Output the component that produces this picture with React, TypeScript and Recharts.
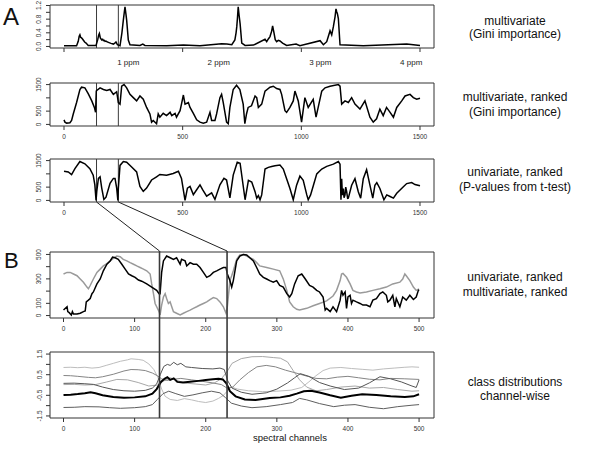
import React from 'react';
import { LineChart, Line, XAxis, YAxis, ReferenceArea, ReferenceLine } from 'recharts';

const FONT = '"Liberation Sans", Arial, Helvetica, sans-serif';

// ---- panel A1: Gini importance over the spectrum (channel, importance)
const giniPoints: [number, number][] = [
  [0, 0.02], [53, 0.02], [60, 0.15], [64, 0.3], [67, 0.34], [70, 0.27], [74, 0.25], [78, 0.22],
  [81, 0.19], [87, 0.13], [93, 0.1], [102, 0.03], [117, 0.03], [135, 0.03], [142, 0.2], [146, 0.33],
  [149, 0.38], [153, 0.25], [159, 0.19], [163, 0.21], [166, 0.17], [170, 0.18], [173, 0.15], [177, 0.16],
  [180, 0.14], [187, 0.12], [198, 0.09], [208, 0.07], [214, 0.1], [219, 0.13], [225, 0.05], [236, 0.02],
  [244, 0.4], [250, 0.77], [254, 1.0], [257, 1.16], [261, 0.95], [264, 0.77], [271, 0.19], [278, 0.05],
  [320, 0.03], [332, 0.07], [341, 0.03], [433, 0.02], [503, 0.04], [573, 0.02], [664, 0.08], [686, 0.07],
  [707, 0.05], [720, 0.19], [725, 0.4], [728, 0.58], [731, 0.85], [734, 1.16], [738, 0.9], [742, 0.67],
  [749, 0.1], [763, 0.03], [798, 0.04], [847, 0.21], [854, 0.14], [861, 0.22], [868, 0.29], [875, 0.45],
  [879, 0.6], [885, 0.39], [890, 0.2], [896, 0.14], [903, 0.18], [910, 0.16], [921, 0.1], [938, 0.03],
  [978, 0.07], [994, 0.02], [1079, 0.17], [1093, 0.05], [1107, 0.14], [1114, 0.3], [1121, 0.46],
  [1128, 0.34], [1135, 0.58], [1142, 0.87], [1146, 1.1], [1149, 1.02], [1152, 0.96], [1156, 0.82],
  [1163, 0.05], [1261, 0.02], [1444, 0.07], [1472, 0.05], [1500, 0.03],
];

// ---- panel A2: multivariate rank
const multiRank: [number, number][] = [
  [0, 172], [4, 86], [11, 49], [25, 62], [32, 148], [39, 394], [53, 824], [67, 1316], [74, 1402],
  [88, 1378], [102, 1156], [117, 886], [128, 640], [133, 455], [136, 1255], [138, 1279], [152, 1378],
  [166, 1316], [180, 1279], [194, 1316], [208, 1132], [222, 1230], [229, 824], [236, 763], [243, 1439],
  [253, 1500], [264, 1378], [278, 1132], [292, 1009], [306, 886], [320, 1070], [334, 947], [348, 640],
  [362, 394], [369, 86], [376, 148], [390, 25], [397, 394], [404, 271], [418, 418], [432, 332],
  [447, 455], [454, 332], [468, 418], [474, 271], [489, 517], [495, 763], [503, 1107], [510, 763],
  [524, 824], [531, 640], [545, 418], [559, 172], [573, 86], [587, 49], [601, 86], [615, 455],
  [622, 148], [636, 148], [643, 394], [657, 1009], [664, 1132], [671, 824], [685, 86], [692, 25],
  [699, 640], [713, 1316], [727, 1476], [741, 1316], [755, 763], [762, 25], [769, 394], [776, 640],
  [790, 701], [805, 1070], [812, 1009], [819, 640], [833, 763], [847, 1255], [868, 1402], [882, 1439],
  [896, 1353], [910, 1316], [917, 1132], [931, 517], [938, 455], [952, 640], [966, 886], [973, 1255],
  [987, 886], [1001, 86], [1015, 1009], [1029, 640], [1050, 947], [1062, 271], [1086, 1255],
  [1100, 1378], [1121, 1439], [1156, 1500], [1163, 1439], [1170, 763], [1184, 886], [1198, 824],
  [1212, 1009], [1226, 763], [1247, 578], [1268, 886], [1289, 271], [1303, 86], [1317, 209],
  [1331, 578], [1345, 332], [1359, 640], [1374, 455], [1388, 271], [1402, 640], [1423, 886],
  [1437, 1070], [1458, 1132], [1472, 1009], [1486, 947], [1500, 984],
];

// ---- panel A3: univariate rank (t-test p-values)
const uniRank: [number, number][] = [
  [0, 1098], [18, 1074], [32, 976], [46, 1196], [67, 1464], [88, 1379], [109, 1196], [123, 952],
  [130, 586], [135, 0], [138, 342], [145, 830], [152, 891], [159, 464], [168, 37], [177, 122],
  [194, 647], [208, 830], [215, 830], [222, 464], [227, 0], [229, 464], [236, 1318], [250, 1464],
  [264, 1440], [285, 1257], [306, 1074], [320, 525], [334, 342], [348, 464], [369, 769], [390, 891],
  [404, 976], [432, 952], [460, 1013], [482, 1098], [495, 830], [510, 0], [520, 464], [531, 525],
  [545, 220], [559, 403], [573, 586], [584, 403], [601, 159], [622, 281], [636, 37], [657, 586],
  [674, 830], [685, 769], [699, 98], [713, 952], [730, 1440], [742, 1400], [763, 24], [777, 756],
  [791, 695], [805, 329], [812, 85], [819, 183], [826, 24], [833, 207], [847, 1183], [861, 1244],
  [875, 1281], [889, 1305], [910, 1330], [924, 1183], [938, 817], [952, 451], [966, 24], [980, 573],
  [994, 915], [1008, 756], [1023, 207], [1029, 24], [1039, 207], [1051, 573], [1065, 1000],
  [1086, 1183], [1107, 1281], [1135, 1366], [1156, 1464], [1163, 1366], [1167, 24], [1170, 817],
  [1173, 200], [1177, 451], [1180, 100], [1184, 207], [1187, 500], [1191, 329], [1195, 80],
  [1198, 85], [1212, 573], [1226, 817], [1240, 329], [1250, 85], [1261, 817], [1275, 1159],
  [1289, 573], [1301, 85], [1310, 573], [1318, 671], [1331, 451], [1348, 24], [1360, 207],
  [1374, 146], [1388, 85], [1402, 268], [1416, 390], [1430, 512], [1444, 634], [1465, 671],
  [1479, 598], [1500, 549],
];

// ---- panel B1: first 500 channels, ranks
const rankBlack: [number, number][] = [
  [0, 45], [5, 72], [6, 32], [8, 24], [11, 5], [12.5, 32], [14, 13], [19, 13], [23.5, 19], [28, 32],
  [30.5, 37], [32, 112], [35, 126], [37.5, 139], [40, 179], [42, 193], [47, 259], [51.6, 299],
  [56, 366], [61, 420], [65.6, 447], [69, 479], [72.6, 473], [77, 460], [82, 420], [86.7, 380],
  [91.4, 340], [96, 326], [100.7, 313], [105.4, 291], [110, 281], [117, 259], [124, 233], [131, 206],
  [134.4, 179], [135.8, 179], [138, 353], [140.5, 447], [145, 487], [150, 473], [154.6, 460],
  [159, 473], [164, 420], [166, 460], [171, 447], [173.3, 406], [178, 433], [182.6, 420],
  [187.3, 420], [192, 393], [196.7, 353], [201.4, 313], [206, 326], [210.7, 353], [215.4, 366],
  [220, 380], [224.8, 393], [228.5, 393], [230.4, 340], [234, 286], [236.5, 233], [238.8, 286],
  [243.5, 447], [248, 487], [252.9, 500], [257.6, 495], [262, 473], [267, 447], [271.6, 393],
  [276, 340], [281, 313], [285.7, 299], [290, 286], [295, 273], [299.7, 286], [304, 246], [309, 233],
  [314, 179], [318, 152], [321, 179], [325, 259], [330, 326], [335, 340], [340, 299], [346, 246],
  [351, 233], [356, 206], [360, 193], [365, 152], [368, 45], [370, 59], [375, 32], [379, 72],
  [384, 32], [389, 126], [391, 206], [393, 166], [396, 193], [398, 59], [400, 152], [403, 166],
  [405, 99], [407, 126], [412, 112], [417, 99], [421, 86], [426, 86], [431, 72], [435, 126],
  [440, 139], [445, 179], [449, 193], [454, 166], [456, 112], [459, 126], [463, 166], [466, 72],
  [468, 139], [473, 72], [477, 152], [482, 126], [487, 166], [492, 131], [496, 152], [499, 206],
  [500, 211],
];

const rankGray: [number, number][] = [
  [0, 340], [5, 353], [9.4, 353], [14, 340], [19, 326], [23.5, 299], [28, 273], [33, 233], [35, 219],
  [37.5, 246], [42, 299], [47, 353], [51.6, 380], [56, 406], [61, 425], [65.6, 447], [70, 468],
  [75, 487], [79.7, 481], [84, 460], [89, 447], [93.7, 433], [98.4, 420], [103, 406], [107.7, 393],
  [112.4, 380], [117, 366], [121.8, 340], [124, 259], [126.5, 179], [128.8, 99], [131, 72],
  [134.4, 32], [135.8, 5], [138, 86], [140.5, 152], [142.9, 179], [145, 139], [147.5, 99],
  [149.9, 112], [152.2, 72], [154.6, 32], [159, 19], [164, 5], [168.6, 19], [173.3, 32], [178, 45],
  [182.6, 59], [187.3, 72], [192, 86], [196.7, 99], [201.4, 112], [206, 131], [210.7, 147],
  [215.4, 139], [220, 112], [224.8, 72], [228.5, 19], [230.4, 72], [234, 286], [236.5, 326],
  [238.8, 366], [243.5, 460], [248, 495], [252.9, 500], [257.6, 487], [262, 473], [267, 460],
  [271.6, 433], [276, 406], [285.7, 393], [295, 380], [304, 366], [309, 300], [314, 206], [318, 112],
  [323, 72], [328, 51], [332, 45], [342, 59], [351, 80], [360, 99], [370, 120], [379, 160], [384, 206],
  [389, 286], [391, 340], [393, 345], [398, 313], [403, 259], [407, 206], [412, 193], [417, 185],
  [426, 193], [435, 206], [445, 219], [454, 233], [463, 259], [473, 273], [477, 299], [480, 340],
  [482, 326], [487, 286], [492, 233], [496, 206], [500, 219],
];

// ---- panel B2: class distributions channel-wise
const classA: [number, number][] = [
  [0, 0.85], [10, 0.86], [20, 0.84], [30, 0.86], [40, 0.82], [50, 0.85], [60, 0.95], [70, 1.05],
  [80, 1.15], [90, 1.22], [95, 1.27], [105, 1.24], [112, 1.2], [120, 1.02], [127, 0.75], [133, 0.35],
  [138, -0.2], [143, -0.55], [150, -0.7], [160, -0.75], [170, -0.66], [180, -0.72], [190, -0.8],
  [200, -0.85], [210, -0.78], [218, -0.65], [225, -0.5], [230, -0.3], [236, -0.1], [245, -0.2],
  [260, -0.28], [280, -0.32], [300, -0.3], [320, -0.25], [335, -0.12], [345, 0.15], [355, 0.45],
  [365, 0.7], [375, 0.82], [390, 0.85], [405, 0.8], [420, 0.76], [435, 0.72], [450, 0.78],
  [465, 0.82], [480, 0.86], [490, 0.88], [500, 0.86],
];
const classB: [number, number][] = [
  [0, 0.46], [10, 0.45], [20, 0.42], [35, 0.37], [45, 0.35], [55, 0.4], [70, 0.52], [85, 0.68],
  [95, 0.75], [105, 0.74], [115, 0.7], [125, 0.58], [132, 0.45], [138, 0.3], [145, 0.22], [155, 0.28],
  [165, 0.32], [180, 0.25], [195, 0.18], [210, 0.1], [222, 0.02], [230, -0.15], [238, -0.1],
  [248, 0.25], [260, 0.6], [272, 0.88], [285, 0.95], [298, 0.88], [312, 0.72], [325, 0.6],
  [340, 0.45], [355, 0.32], [370, 0.3], [385, 0.38], [400, 0.42], [415, 0.35], [430, 0.28],
  [445, 0.25], [460, 0.32], [480, 0.3], [500, 0.27],
];
const classC: [number, number][] = [
  [0, 0.08], [15, 0.09], [30, 0.06], [42, 0.03], [55, -0.1], [70, -0.22], [85, -0.28], [100, -0.3],
  [115, -0.26], [125, -0.15], [131, 0.05], [136, 0.5], [141, 0.9], [146, 1.0], [150, 0.95],
  [155, 1.1], [160, 0.98], [165, 1.05], [172, 0.88], [180, 0.85], [195, 0.8], [210, 0.78],
  [220, 0.82], [226, 0.75], [231, 0.2], [237, -0.15], [250, -0.35], [265, -0.45], [285, -0.38],
  [300, -0.2], [315, 0.1], [325, 0.35], [333, 0.55], [345, 0.42], [360, 0.12], [375, -0.05],
  [395, -0.22], [415, -0.15], [430, 0.1], [445, 0.4], [460, 0.3], [475, 0.15], [490, -0.05],
  [496, -0.12], [500, 0.25],
];
const classD: [number, number][] = [
  [0, 0.02], [15, 0.03], [30, 0.0], [45, 0.02], [60, 0.14], [75, 0.27], [90, 0.25], [105, 0.12],
  [120, -0.05], [132, 0.0], [140, 0.18], [150, 0.35], [160, 0.22], [170, 0.1], [185, 0.05],
  [200, 0.0], [212, 0.1], [222, 0.3], [230, 0.65], [237, 1.05], [250, 1.28], [265, 1.37],
  [280, 1.38], [295, 1.33], [305, 1.3], [315, 1.12], [323, 0.7], [332, 0.25], [342, -0.1],
  [355, -0.28], [370, -0.22], [390, -0.1], [410, -0.05], [430, -0.15], [450, -0.12], [470, -0.22],
  [490, -0.3], [500, -0.28],
];
const classMean: [number, number][] = [
  [0, -0.49], [10, -0.47], [20, -0.44], [30, -0.4], [38, -0.35], [45, -0.4], [55, -0.5], [70, -0.58],
  [85, -0.62], [100, -0.6], [115, -0.55], [125, -0.42], [131, -0.2], [137, 0.15], [142, 0.3],
  [146, 0.38], [150, 0.25], [155, 0.32], [160, 0.15], [168, 0.12], [178, 0.16], [190, 0.2],
  [200, 0.24], [210, 0.28], [218, 0.3], [224, 0.27], [229, 0.08], [234, -0.3], [242, -0.55],
  [255, -0.7], [270, -0.73], [290, -0.63], [305, -0.6], [318, -0.52], [328, -0.42], [338, -0.3],
  [348, -0.28], [360, -0.36], [375, -0.5], [390, -0.62], [405, -0.52], [420, -0.45], [440, -0.48],
  [460, -0.55], [480, -0.58], [492, -0.55], [500, -0.45],
];
const classF: [number, number][] = [
  [0, -1.09], [15, -1.08], [30, -1.05], [50, -1.06], [65, -1.1], [80, -1.13], [100, -1.1],
  [115, -1.05], [125, -0.95], [132, -0.7], [140, -0.42], [148, -0.3], [158, -0.42], [170, -0.55],
  [182, -0.48], [195, -0.38], [208, -0.3], [220, -0.38], [228, -0.62], [236, -0.88], [250, -1.02],
  [265, -1.1], [285, -1.05], [305, -0.95], [322, -0.85], [332, -0.65], [342, -0.72], [360, -0.9],
  [380, -1.05], [395, -0.98], [410, -0.95], [430, -1.08], [450, -1.15], [470, -1.05], [490, -0.98],
  [500, -0.95],
];

// axis ticks and marked channel windows
const spectrumTicks = [0, 500, 1000, 1500];
const ppmTicks = [271, 652, 1080, 1463];
const ppmLabels = ['1 ppm', '2 ppm', '3 ppm', '4 ppm'];
const zoomTicks = [0, 100, 200, 300, 400, 500];
const giniTicks = [0, 0.2, 0.4, 0.6, 0.8, 1.0, 1.2];
const giniLabels = [0, 0.4, 0.8, 1.2];
const rankLabels = [0, 500, 1500];
const zoomRankTicks = [0, 100, 200, 300, 400, 500];
const zoomRankLabels = [0, 100, 300, 500];
const classTicks = [-1.5, -1, -0.5, 0, 0.5, 1, 1.5];
const classLabels = [-1.5, -0.5, 0.5, 1.5];
const windowFull = [137, 229];
const windowZoom = [135, 230];

const rows = (pts: [number, number][]) => pts.map(([x, y]) => ({ x, y }));

const PLOT_LEFT = 50;
const PLOT_RIGHT = 434;
const TOP_X: [number, number] = [-59, 1559];
const BOT_X: [number, number] = [-19, 521];
const P1 = { top: 5, bottom: 48 };
const P2 = { top: 83, bottom: 126 };
const P3 = { top: 159, bottom: 202 };
const P4 = { top: 252, bottom: 318 };
const P5 = { top: 352, bottom: 418 };

const scaleX = (v: number, d: [number, number]) =>
  PLOT_LEFT + ((v - d[0]) / (d[1] - d[0])) * (PLOT_RIGHT - PLOT_LEFT);

function XTick(props: any) {
  const { x, y, payload, show } = props;
  if (!show.includes(payload.value)) return <g />;
  return (
    <text x={x} y={y} dy="0.71em" textAnchor="middle" fontSize={6.5} fill="#333" fontFamily={FONT}>
      {payload.value}
    </text>
  );
}

function YTick(props: any) {
  const { x, y, payload, show, fmt } = props;
  if (!show.includes(payload.value)) return <g />;
  return (
    <text
      x={x}
      y={y}
      transform={`rotate(-90 ${x} ${y})`}
      textAnchor="middle"
      fontSize={6.5}
      fill="#333"
      fontFamily={FONT}
    >
      {fmt ? fmt(payload.value) : payload.value}
    </text>
  );
}

type PanelProps = {
  box: { top: number; bottom: number };
  xDomain: [number, number];
  yDomain: [number, number];
  xTicks: number[];
  xLabels: number[];
  yTicks: number[];
  yLabels: number[];
  yFmt?: (v: number) => string;
  marks?: number[];
  axisH?: number;
  children: React.ReactNode;
};

function Panel(p: PanelProps) {
  const pad = 9;
  const axisH = p.axisH ?? 16;
  const height = p.box.bottom - p.box.top + pad + axisH;
  return (
    <div style={{ position: 'absolute', left: 0, top: p.box.top - pad }}>
      <LineChart
        width={440}
        height={height}
        margin={{ top: pad, right: 440 - PLOT_RIGHT, bottom: 0, left: 0 }}
      >
        <XAxis
          dataKey="x"
          type="number"
          domain={p.xDomain}
          ticks={p.xTicks}
          interval={0}
          allowDataOverflow
          height={axisH}
          axisLine={false}
          tickSize={4}
          tickMargin={4}
          tickLine={{ stroke: '#333' }}
          tick={(t: any) => <XTick {...t} show={p.xLabels} />}
        />
        <YAxis
          type="number"
          domain={p.yDomain}
          ticks={p.yTicks}
          interval={0}
          allowDataOverflow
          width={PLOT_LEFT}
          axisLine={false}
          tickSize={4}
          tickMargin={4.5}
          tickLine={{ stroke: '#333' }}
          tick={(t: any) => <YTick {...t} show={p.yLabels} fmt={p.yFmt} />}
        />
        <ReferenceArea
          x1={p.xDomain[0]}
          x2={p.xDomain[1]}
          y1={p.yDomain[0]}
          y2={p.yDomain[1]}
          fill="none"
          stroke="#333"
          strokeWidth={1}
          fillOpacity={0}
        />
        {(p.marks || []).map((m) => (
          <ReferenceLine key={m} x={m} stroke="#3a3a3a" strokeWidth={1} />
        ))}
        {p.children}
      </LineChart>
    </div>
  );
}

const sideLabels = [
  { y: 24.5, text: 'multivariate' },
  { y: 37.5, text: '(Gini importance)' },
  { y: 100.5, text: 'multivariate, ranked' },
  { y: 115.5, text: '(Gini importance)' },
  { y: 175.5, text: 'univariate, ranked' },
  { y: 190.5, text: '(P-values from t-test)' },
  { y: 280.5, text: 'univariate, ranked' },
  { y: 295.5, text: 'multivariate, ranked' },
  { y: 385.5, text: 'class distributions' },
  { y: 399.5, text: 'channel-wise' },
];

export default function App() {
  return (
    <div
      style={{
        position: 'absolute',
        left: 0,
        top: 0,
        width: 600,
        height: 461,
        background: '#fff',
        overflow: 'hidden',
        fontFamily: FONT,
      }}
    >
      <Panel
        box={P1}
        xDomain={TOP_X}
        yDomain={[-0.045, 1.215]}
        xTicks={spectrumTicks}
        xLabels={[]}
        yTicks={giniTicks}
        yLabels={giniLabels}
        yFmt={(v) => v.toFixed(1)}
        marks={windowFull}
        axisH={8}
      >
        <Line data={rows(giniPoints)} dataKey="y" stroke="#000" strokeWidth={1.5} dot={false} isAnimationActive={false} />
      </Panel>

      <Panel
        box={P2}
        xDomain={TOP_X}
        yDomain={[-60, 1560]}
        xTicks={spectrumTicks}
        xLabels={spectrumTicks}
        yTicks={spectrumTicks}
        yLabels={rankLabels}
        marks={windowFull}
      >
        <Line data={rows(multiRank)} dataKey="y" stroke="#000" strokeWidth={1.5} dot={false} isAnimationActive={false} />
      </Panel>

      <Panel
        box={P3}
        xDomain={TOP_X}
        yDomain={[-60, 1560]}
        xTicks={spectrumTicks}
        xLabels={spectrumTicks}
        yTicks={spectrumTicks}
        yLabels={rankLabels}
        marks={windowFull}
      >
        <Line data={rows(uniRank)} dataKey="y" stroke="#000" strokeWidth={1.5} dot={false} isAnimationActive={false} />
      </Panel>

      <Panel
        box={P4}
        xDomain={BOT_X}
        yDomain={[-20, 520]}
        xTicks={zoomTicks}
        xLabels={zoomTicks}
        yTicks={zoomRankTicks}
        yLabels={zoomRankLabels}
      >
        <Line data={rows(rankGray)} dataKey="y" stroke="#9a9a9a" strokeWidth={1.5} dot={false} isAnimationActive={false} />
        <Line data={rows(rankBlack)} dataKey="y" stroke="#000" strokeWidth={1.5} dot={false} isAnimationActive={false} />
      </Panel>

      <Panel
        box={P5}
        xDomain={BOT_X}
        yDomain={[-1.6, 1.6]}
        xTicks={zoomTicks}
        xLabels={zoomTicks}
        yTicks={classTicks}
        yLabels={classLabels}
      >
        <Line data={rows(classA)} dataKey="y" stroke="#bdbdbd" strokeWidth={1} dot={false} isAnimationActive={false} />
        <Line data={rows(classD)} dataKey="y" stroke="#a8a8a8" strokeWidth={1} dot={false} isAnimationActive={false} />
        <Line data={rows(classB)} dataKey="y" stroke="#858585" strokeWidth={1} dot={false} isAnimationActive={false} />
        <Line data={rows(classC)} dataKey="y" stroke="#555" strokeWidth={1} dot={false} isAnimationActive={false} />
        <Line data={rows(classF)} dataKey="y" stroke="#5e5e5e" strokeWidth={1} dot={false} isAnimationActive={false} />
        <Line data={rows(classMean)} dataKey="y" stroke="#000" strokeWidth={2} dot={false} isAnimationActive={false} />
      </Panel>

      <svg
        width={600}
        height={461}
        style={{ position: 'absolute', left: 0, top: 0, pointerEvents: 'none' }}
      >
        {windowZoom.map((m, i) => (
          <g key={m}>
            <line
              x1={scaleX(windowFull[i], TOP_X)}
              y1={P3.bottom}
              x2={scaleX(m, BOT_X)}
              y2={P4.top - 1}
              stroke="#222"
              strokeWidth={1}
            />
            <line
              x1={scaleX(m, BOT_X)}
              y1={P4.top - 1}
              x2={scaleX(m, BOT_X)}
              y2={P5.bottom}
              stroke="#3a3a3a"
              strokeWidth={1.6}
            />
          </g>
        ))}
        {ppmTicks.map((t, i) => (
          <text key={t} x={scaleX(t, TOP_X)} y={64.5} textAnchor="middle" fontSize={8} fill="#222" fontFamily={FONT}>
            {ppmLabels[i]}
          </text>
        ))}
        <text x={3} y={25} fontSize={24} fill="#111" fontFamily={FONT}>A</text>
        <text x={4} y={268} fontSize={22} fill="#111" fontFamily={FONT}>B</text>
        {sideLabels.map((l, i) => (
          <text key={i} x={515} y={l.y} textAnchor="middle" fontSize={12} fill="#111" fontFamily={FONT}>
            {l.text}
          </text>
        ))}
        <text x={290} y={441} textAnchor="middle" fontSize={9.5} fill="#111" fontFamily={FONT}>
          spectral channels
        </text>
      </svg>
    </div>
  );
}
